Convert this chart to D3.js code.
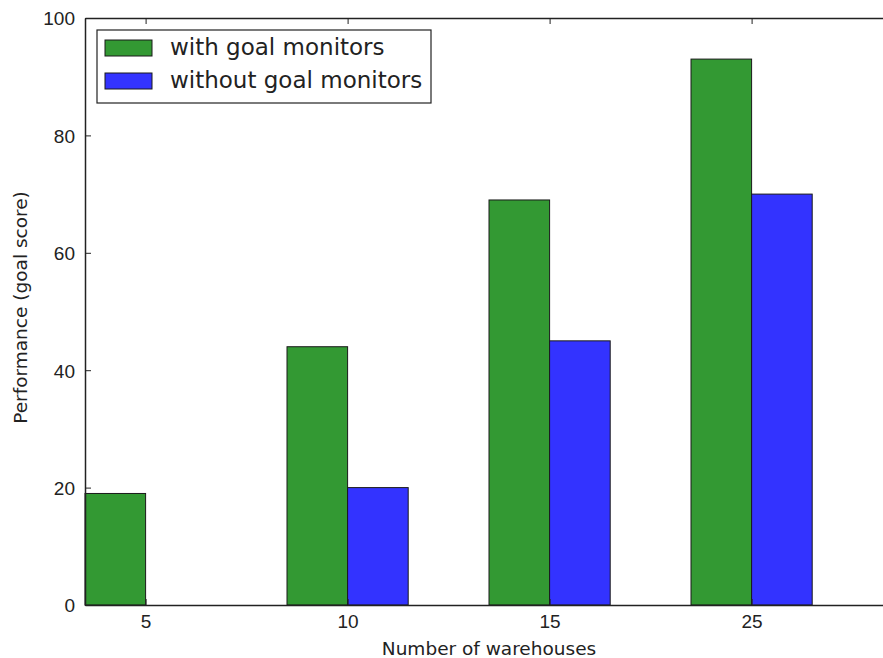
<!DOCTYPE html>
<html>
<head>
<meta charset="utf-8">
<script src="https://cdn.jsdelivr.net/npm/d3@7"></script>
<style>
body { margin: 0; background: #fff; }
svg { display: block; font-family: "DejaVu Sans", sans-serif; }
</style>
</head>
<body>
<script>
var categories = ["5", "10", "15", "25"];
var withMonitors = [19, 44, 69, 93];
var withoutMonitors = [0, 20, 45, 70];
var seriesNames = ["with goal monitors", "without goal monitors"];
var yTicks = [0, 20, 40, 60, 80, 100];

var width = 883, height = 658;
var margin = {left: 85, top: 18, bottom: 53};
var barW = 0.3;

var svg = d3.select("body").append("svg").attr("width", width).attr("height", height);

var x = d3.scaleLinear().domain([-0.3, 3.9]).range([margin.left, margin.left + 4.2 * 202]);
var y = d3.scaleLinear().domain([0, 100]).range([height - margin.bottom, margin.top]);

var colors = ["#339933", "#3333ff"];
var series = [withMonitors, withoutMonitors];

// bars
series.forEach(function(vals, s) {
  svg.append("g").selectAll("rect")
    .data(vals)
    .enter().append("rect")
    .attr("x", function(d, i) { return x(i - barW + s * barW); })
    .attr("width", x(barW) - x(0))
    .attr("y", function(d) { return y(d); })
    .attr("height", function(d) { return y(0) - y(d); })
    .attr("fill", colors[s])
    .attr("stroke", "#1a1a1a")
    .attr("stroke-width", 1);
});

// axes (ticks inside, mirrored top/bottom)
var yAxis = d3.axisLeft(y).tickValues(yTicks).tickSizeInner(-6).tickSizeOuter(0).tickPadding(10);
var xAxis = d3.axisBottom(x).tickValues(d3.range(categories.length))
  .tickFormat(function(d) { return categories[d]; })
  .tickSizeInner(-6).tickSizeOuter(0).tickPadding(10);
var xTop = d3.axisTop(x).tickValues(d3.range(categories.length)).tickFormat("")
  .tickSizeInner(-6).tickSizeOuter(0);

var gy = svg.append("g").attr("transform", "translate(" + margin.left + ",0)").call(yAxis);
var gx = svg.append("g").attr("transform", "translate(0," + y(0) + ")").call(xAxis);
var gt = svg.append("g").attr("transform", "translate(0," + y(100) + ")").call(xTop);

[gy, gx, gt].forEach(function(g) {
  g.select(".domain").attr("stroke", "#222").attr("stroke-width", 1.5);
  g.selectAll(".tick line").attr("stroke", "#222");
  g.selectAll(".tick text").attr("fill", "#222").style("font-size", "19px");
});
gy.selectAll(".tick text").attr("dy", "0.36em");

// axis labels
svg.append("text")
  .attr("x", x(1.7)).attr("y", 655)
  .attr("text-anchor", "middle").attr("fill", "#222")
  .style("font-size", "18.5px")
  .text("Number of warehouses");
svg.append("text")
  .attr("transform", "translate(27," + (y(50) - 4) + ") rotate(-90)")
  .attr("text-anchor", "middle").attr("fill", "#222")
  .style("font-size", "18.5px")
  .text("Performance (goal score)");

// legend
var leg = svg.append("g").attr("transform", "translate(97,30)");
leg.append("rect").attr("width", 334).attr("height", 73)
  .attr("fill", "#fff").attr("stroke", "#222").attr("stroke-width", 1.2);
seriesNames.forEach(function(name, i) {
  leg.append("rect").attr("x", 8).attr("y", 10 + i * 33).attr("width", 47).attr("height", 16)
    .attr("fill", colors[i]).attr("stroke", "#1a1a1a").attr("stroke-width", 1);
  leg.append("text").attr("x", 73).attr("y", 25 + i * 33)
    .attr("fill", "#222").style("font-size", "23px")
    .text(name);
});
</script>
</body>
</html>
